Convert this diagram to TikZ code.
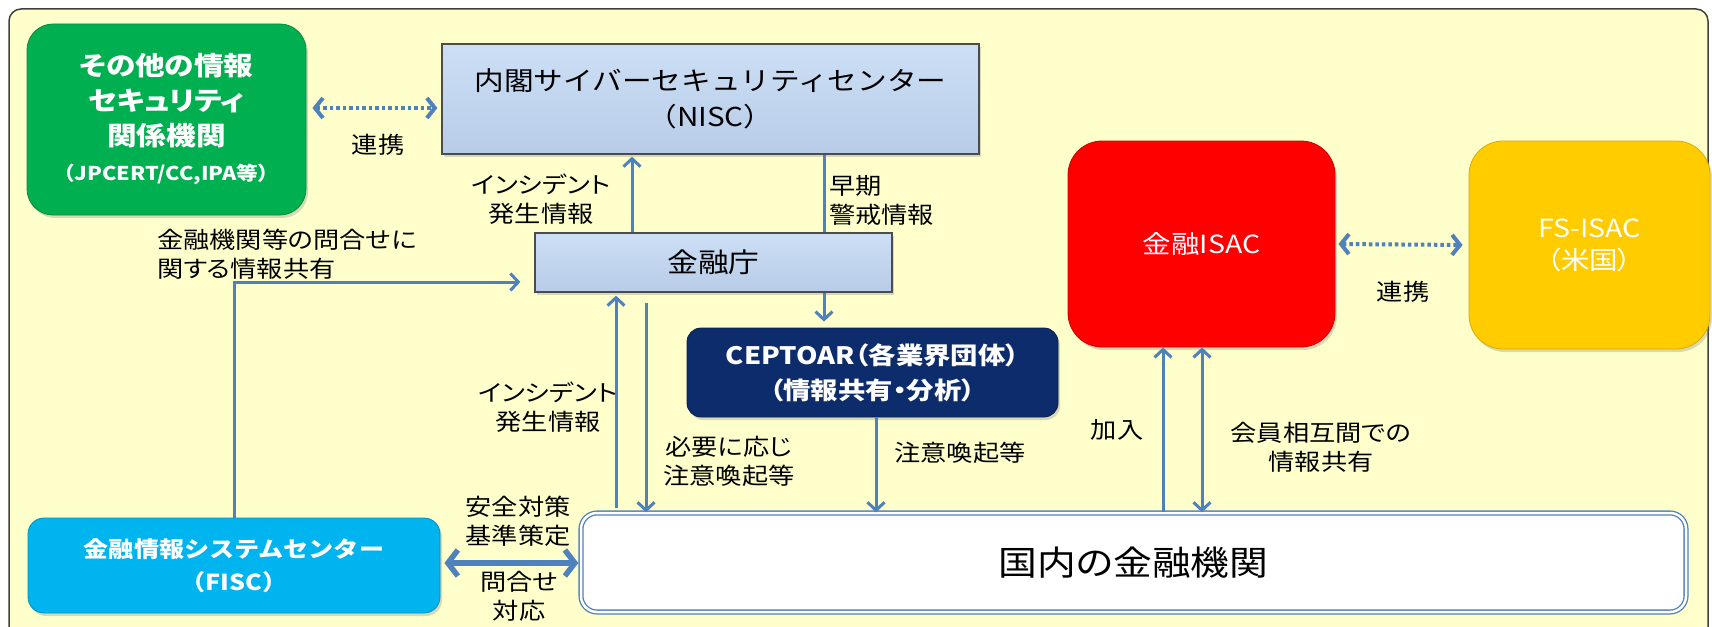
\documentclass[tikz,border=0pt]{standalone}
\usepackage{fontspec}
\setmainfont{Noto Sans CJK JP}[FakeStretch=1.14]
\newfontfamily\pf{Noto Sans CJK JP}[FakeStretch=1.14,RawFeature=+palt]
\usetikzlibrary{arrows.meta,shadows,calc}
\definecolor{bgy}{HTML}{FFFFCC}
\definecolor{grn}{HTML}{00B050}
\definecolor{niscT}{HTML}{CCDFF5}
\definecolor{niscB}{HTML}{B8CCE8}
\definecolor{navy}{HTML}{0D2C6C}
\definecolor{fiscc}{HTML}{00B4F0}
\definecolor{isacred}{HTML}{FF0000}
\definecolor{gold}{HTML}{FFCC00}
\definecolor{ablue}{HTML}{4F81BD}
\pgfdeclarelayer{back}
\pgfdeclarelayer{bg}
\pgfsetlayers{back,bg,main}
\tikzset{
  lbl/.style={font=\pf\fontsize{23}{29}\selectfont, align=center, inner sep=0pt, text=black},
  sh/.style={drop shadow={opacity=0.3, shadow xshift=2pt, shadow yshift=-3pt}},
  boxbase/.style={sh, align=center, inner sep=0pt},
  gbox/.style={boxbase, rounded corners=26pt, fill=grn, draw=grn!80!black, line width=0.8pt, text=white},
  nbox/.style={boxbase, top color=niscT, bottom color=niscB, draw=black!70, line width=1.2pt, text=black},
  cbox/.style={boxbase, rounded corners=14pt, fill=navy, draw=navy!70!black, line width=0.8pt, text=white},
  fbox/.style={boxbase, rounded corners=16pt, fill=fiscc, draw=fiscc!80!black, line width=0.8pt, text=white},
  rbox/.style={boxbase, rounded corners=34pt, fill=isacred, draw=isacred!80!black, line width=0.8pt, text=white},
  ybox/.style={boxbase, rounded corners=34pt, fill=gold, draw=gold!85!black, line width=0.8pt, text=white},
  dbox/.style={align=center, inner sep=0pt, rounded corners=16pt, draw=ablue, double=white, double distance=2.5pt, line width=1.3pt, fill=white, text=black},
  arr/.style={draw=ablue, line width=3pt, -{Straight Barb[length=8pt,width=17pt]}},
  biarr/.style={draw=ablue, line width=3pt, {Straight Barb[length=8pt,width=17pt]}-{Straight Barb[length=8pt,width=17pt]}},
  dotarr/.style={draw=ablue, line width=4pt, dash pattern=on 3.5pt off 3pt, {Straight Barb[length=8pt,width=20pt]}-{Straight Barb[length=8pt,width=20pt]}},
  fatarr/.style={draw=ablue, line width=5.5pt, {Straight Barb[length=10pt,width=26pt]}-{Straight Barb[length=10pt,width=26pt]}}
}
\begin{document}
\begin{tikzpicture}[x=1pt,y=-1pt]
\useasboundingbox (0,0) rectangle (1712,626);
\begin{pgfonlayer}{back}
\fill[white] (0,0) rectangle (1712,626);
\draw[rounded corners=12pt, draw=black!75, line width=1.5pt, fill=bgy] (9,9) rectangle (1708,660);
\end{pgfonlayer}

% boxes
\node[gbox, minimum width=279, minimum height=191, font=\pf\bfseries\fontsize{26}{35}\selectfont] (grn) at (166.5,119.5)
  {その他の情報\\セキュリティ\\関係機関\\{\fontsize{19}{35}\selectfont （JPCERT/CC,IPA等）}};
\node[nbox, minimum width=537, minimum height=110, font=\fontsize{26}{36}\selectfont] (nisc) at (710.5,99)
  {内閣サイバーセキュリティセンター\\（NISC）};
\node[nbox, minimum width=357, minimum height=59, font=\fontsize{27}{32}\selectfont] (fsa) at (713.5,262.5) {金融庁};
\node[cbox, minimum width=371, minimum height=89, font=\pf\bfseries\fontsize{24}{35}\selectfont] (cep) at (872.5,372.5)
  {CEPTOAR（各業界団体）\\（情報共有・分析）};
\node[fbox, minimum width=412, minimum height=95, font=\bfseries\fontsize{22}{33}\selectfont] (fisc) at (234,565.5)
  {金融情報システムセンター\\（FISC）};
\node[dbox, minimum width=1105, minimum height=99, font=\pf\fontsize{34}{40}\selectfont] (dom) at (1133.5,562.5) {国内の金融機関};
\node[rbox, minimum width=267, minimum height=206, font=\pf\fontsize{25}{32}\selectfont] (isac) at (1201.5,244) {金融ISAC};
\node[ybox, minimum width=241, minimum height=208, font=\pf\fontsize{25}{32}\selectfont] (fs) at (1589.5,245) {FS-ISAC\\（米国）};

% helper coordinates
\coordinate (d1) at (0,108);
\coordinate (t1) at (0,282);
\coordinate (y2) at (0,563);
\coordinate (x1) at (632,0);
\coordinate (x2) at (824,0);
\coordinate (x3) at (616,0);
\coordinate (x4) at (646,0);
\coordinate (x5) at (876,0);
\coordinate (x6) at (1163,0);
\coordinate (x7) at (1202,0);

% connectors
\draw[dotarr, shorten <=6pt, shorten >=4pt] (grn.east |- d1) -- (nisc.west |- d1);
\draw[arr, shorten >=2pt] (x1 |- fsa.north) -- (x1 |- nisc.south);
\begin{pgfonlayer}{bg}
\draw[arr, shorten >=6pt] (x2 |- nisc.south) -- (x2 |- cep.north);
\end{pgfonlayer}
\draw[arr, shorten >=14pt] (fisc.north) -- (fisc.north |- t1) -- (fsa.west |- t1);
\draw[arr, shorten <=4pt, shorten >=3pt] (x3 |- dom.north) -- (x3 |- fsa.south);
\draw[arr, shorten <=10pt] (x4 |- fsa.south) -- (x4 |- dom.north);
\draw[arr] (x5 |- cep.south) -- (x5 |- dom.north);
\draw[arr] (x6 |- dom.north) -- (x6 |- isac.south);
\draw[biarr] (x7 |- isac.south) -- (x7 |- dom.north);
\draw[dotarr, shorten <=3pt, shorten >=6pt] (isac.east) -- (fs.west);
\draw[fatarr, shorten <=4pt, shorten >=2pt] (fisc.east |- y2) -- (dom.west |- y2);

% labels
\node[lbl] (l1) at (378,145) {連携};
\node[lbl] (l2) at (541,199) {インシデント\\発生情報};
\node[lbl, anchor=west, align=left] (l3) at (829,200) {早期\\警戒情報};
\node[lbl, anchor=west, align=left] (l4) at (157,254) {金融機関等の問合せに\\関する情報共有};
\node[lbl] (l5) at (548,407) {インシデント\\発生情報};
\node[lbl] (l6) at (729,461) {必要に応じ\\注意喚起等};
\node[lbl] (l7) at (960,453) {注意喚起等};
\node[lbl] (l8) at (1117,430) {加入};
\node[lbl] (l9) at (1321,447) {会員相互間での\\情報共有};
\node[lbl] (l10) at (1403,292) {連携};
\node[lbl] (l11) at (518,521) {安全対策\\基準策定};
\node[lbl] (l12) at (519,596) {問合せ\\対応};
\end{tikzpicture}
\end{document}
